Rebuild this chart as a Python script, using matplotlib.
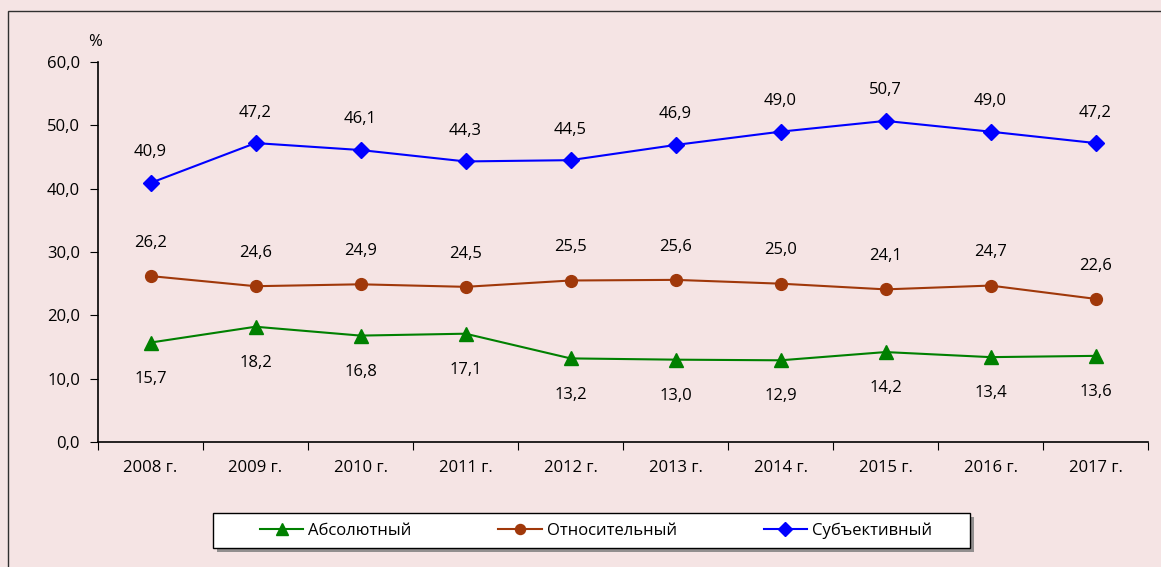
import numpy as np
import matplotlib
matplotlib.use("Agg")
import matplotlib.pyplot as plt
from matplotlib.patches import Rectangle
from matplotlib.ticker import FuncFormatter, FixedLocator

plt.rcParams['font.family'] = ['Open Sans', 'DejaVu Sans']

years = ["2008 г.", "2009 г.", "2010 г.", "2011 г.", "2012 г.",
         "2013 г.", "2014 г.", "2015 г.", "2016 г.", "2017 г."]
absolute = [15.7, 18.2, 16.8, 17.1, 13.2, 13.0, 12.9, 14.2, 13.4, 13.6]
relative = [26.2, 24.6, 24.9, 24.5, 25.5, 25.6, 25.0, 24.1, 24.7, 22.6]
subjective = [40.9, 47.2, 46.1, 44.3, 44.5, 46.9, 49.0, 50.7, 49.0, 47.2]

bg = "#F5E4E4"
fs = 12
W, H = 1161, 567
fig = plt.figure(figsize=(W/100, H/100), dpi=100, facecolor=bg)
ax = fig.add_axes([98/W, 1-442/H, 1050/W, 380/H])
ax.set_facecolor(bg)

# outer frame of the chart area (goes past right/bottom edge)
fig.patches.append(Rectangle((8/W, -0.2), 1.2, 1.2 - 11/H, transform=fig.transFigure,
                             fill=False, edgecolor="#303030", linewidth=1.0, clip_on=False))

x = np.arange(len(years))
series = [
    ("Абсолютный", absolute, "#008000", "^", 9.5, -26),
    ("Относительный", relative, "#A0380A", "o", 8.5, 24),
    ("Субъективный", subjective, "#0000FF", "D", 8, 22),
]
handles = []
for name, vals, col, mk, ms, off in series:
    h, = ax.plot(x, vals, color=col, marker=mk, markersize=ms, linewidth=1.5,
                 markeredgecolor=col, label=name)
    handles.append(h)
    for xi, v in zip(x, vals):
        ax.annotate(f"{v:.1f}".replace(".", ","), (xi, v), xytext=(0, off),
                    textcoords="offset points", ha="center", va="center", fontsize=fs)

ax.set_xlim(-0.5, len(years) - 0.5)
ax.set_ylim(0, 60)
ax.set_yticks(np.arange(0, 61, 10))
ax.yaxis.set_major_formatter(FuncFormatter(lambda v, p: f"{v:.1f}".replace(".", ",")))
ax.xaxis.set_major_locator(FixedLocator(np.arange(-0.5, len(years), 1.0)))
ax.xaxis.set_major_formatter(FuncFormatter(lambda v, p: ""))
ax.xaxis.set_minor_locator(FixedLocator(x))
ax.set_xticklabels(years, minor=True)
ax.tick_params(axis="x", which="minor", length=0, pad=13, labelsize=fs)
ax.tick_params(axis="x", which="major", length=6, direction="out")
ax.tick_params(axis="y", length=6, direction="out", labelsize=fs, pad=7)
for s in ["top", "right"]:
    ax.spines[s].set_visible(False)
ax.spines["left"].set_linewidth(1.2)
ax.spines["bottom"].set_linewidth(1.2)

fig.text(95/W, 1-42/H, "%", ha="center", va="center", fontsize=fs)

# legend box with shadow, drawn separately to get the wide Excel-style frame
lx0, lx1, ly0, ly1 = 213, 970, 513, 548
fig.patches.append(Rectangle(((lx0 + 4)/W, 1-(ly1 + 4)/H), (lx1-lx0)/W, (ly1-ly0)/H,
                             transform=fig.transFigure, facecolor="#7a7a7a",
                             edgecolor="none", alpha=0.8, zorder=1))
fig.patches.append(Rectangle((lx0/W, 1-ly1/H), (lx1-lx0)/W, (ly1-ly0)/H,
                             transform=fig.transFigure, facecolor="white",
                             edgecolor="black", linewidth=1.0, zorder=2))
leg = fig.legend(handles=handles, loc="center", bbox_to_anchor=(596/W, 1-531/H),
                 ncol=3, frameon=False, fontsize=fs,
                 handlelength=2.6, handletextpad=0.3, columnspacing=5.2,
                 markerscale=0.85)
leg.set_zorder(3)

fig.savefig("out.png", dpi=100, facecolor=bg)
